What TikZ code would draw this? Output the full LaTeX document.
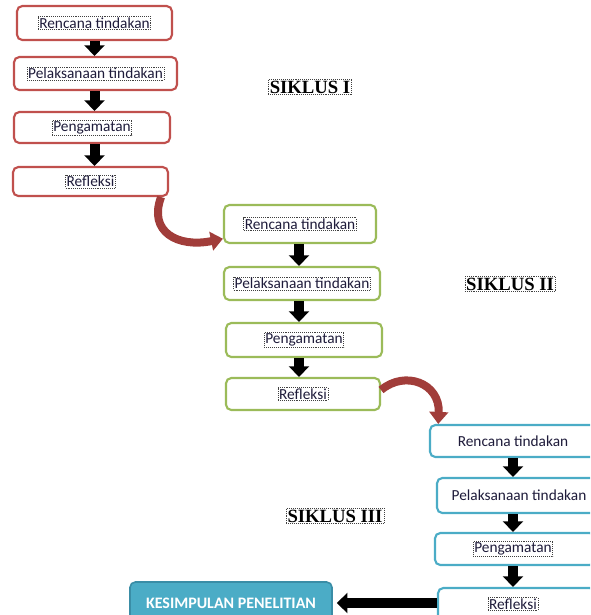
\documentclass[tikz,border=0pt]{standalone}
\usepackage{fontspec}
\setmainfont{Carlito}
\newfontfamily\sikfont{Liberation Serif}
\usetikzlibrary{arrows.meta}
\definecolor{redb}{HTML}{C0504D}
\definecolor{greenb}{HTML}{9BBB59}
\definecolor{blueb}{HTML}{4BACC6}
\definecolor{bluefill}{HTML}{4BACC6}
\definecolor{bluedark}{HTML}{3A8DA6}
\definecolor{curv}{HTML}{A13D3A}
\definecolor{txt}{HTML}{1E1B3A}
\tikzset{
  box/.style={draw, rounded corners=4pt, line width=1.6pt, fill=white, inner sep=0pt},
  sz/.style 2 args={minimum width=#1*0.75pt, minimum height=#2*0.75pt},
  lbl/.style={inner sep=0.8pt, text=txt, font=\fontsize{11.5}{13}\selectfont},
  dlbl/.style={lbl, draw=black!75, densely dotted, line width=0.45pt},
  sik/.style={draw=black!75, densely dotted, line width=0.45pt, inner sep=1pt, font=\sikfont\bfseries\fontsize{14}{16}\selectfont, text=black},
  blk/.style={line width=7.5pt, black, -{Triangle[width=15pt,length=8pt]}},
  crv/.style={line width=6pt, curv, -{Triangle[width=14pt,length=9pt]}},
}
\begin{document}
\begin{tikzpicture}[x=0.75pt,y=-0.75pt]
\useasboundingbox (0,0) rectangle (590,615);
\clip (0,0) rectangle (590,615);
% Cycle I
\node[box, draw=redb, sz={155}{34}] (r1) at (94.5,23) {};
\node[box, draw=redb, sz={163}{33}] (r2) at (95.5,73.5) {};
\node[box, draw=redb, sz={156}{31}] (r3) at (92,127.5) {};
\node[box, draw=redb, sz={155}{29}] (r4) at (90.5,181.5) {};
\node[dlbl] (r1t) at (r1) {Rencana tindakan};
\node[dlbl] (r2t) at (r2) {Pelaksanaan tindakan};
\node[dlbl] (r3t) at (r3) {Pengamatan};
\node[dlbl] (r4t) at (r4) {Refleksi};
\draw[blk] (r1.south) -- (r1.south |- r2.north);
\draw[blk] (r1.south |- r2.south) -- (r1.south |- r3.north);
\draw[blk] (r1.south |- r3.south) -- (r1.south |- r4.north);
\node[sik] (s1) at (310,87) {SIKLUS I};
% Cycle II
\node[box, draw=greenb, sz={152}{38}] (g1) at (300,224) {};
\node[box, draw=greenb, sz={156}{33}] (g2) at (302,283.5) {};
\node[box, draw=greenb, sz={156}{34}] (g3) at (304,340) {};
\node[box, draw=greenb, sz={154}{32}] (g4) at (303,394) {};
\node[dlbl] (g1t) at (g1) {Rencana tindakan};
\node[dlbl] (g2t) at (g2) {Pelaksanaan tindakan};
\node[dlbl] (g3t) at (g3) {Pengamatan};
\node[dlbl] (g4t) at (g4) {Refleksi};
\coordinate (gx) at (299,0);
\draw[blk] (gx |- g1.south) -- (gx |- g2.north);
\draw[blk] (gx |- g2.south) -- (gx |- g3.north);
\draw[blk] (gx |- g3.south) -- (gx |- g4.north);
\node[sik] (s2) at (510,284) {SIKLUS II};
% Cycle III
\node[box, draw=blueb, sz={166}{32}] (b1) at (513,441) {};
\node[box, draw=blueb, sz={161}{35}] (b2) at (517.5,495.5) {};
\node[box, draw=blueb, sz={160}{32}] (b3) at (515,549) {};
\node[box, draw=blueb, sz={157}{36}] (b4) at (516.5,606) {};
\node[lbl] (b1t) at (513,441) {Rencana tindakan};
\node[lbl] (b2t) at (519,495.5) {Pelaksanaan tindakan};
\node[dlbl] (b3t) at (513,549) {Pengamatan};
\node[dlbl] (b4t) at (513,604) {Refleksi};
\coordinate (bx) at (513,0);
\draw[blk] (bx |- b1.south) -- (bx |- b2.north);
\draw[blk] (bx |- b2.south) -- (bx |- b3.north);
\draw[blk] (bx |- b3.south) -- (bx |- b4.north);
\node[sik] (s3) at (335,516) {SIKLUS III};
% Conclusion
\node[draw=bluedark, fill=bluefill, rounded corners=4pt, line width=1.2pt, sz={202}{42}, inner sep=0pt,
      text=white, font=\bfseries\fontsize{12}{14}\selectfont] (k) at (231,603) {KESIMPULAN PENELITIAN};
\draw[blk] (k.east -| b4.west) -- ([xshift=3pt]k.east);
% Curved arrows
\draw[crv] ([xshift=-6pt]r4.south east) .. controls (148,232) and (178,248) .. ([yshift=4pt]g1.south west);
\draw[crv] ([yshift=3pt]g4.east) .. controls (405,370) and (440,383) .. ([xshift=7pt]b1.north west);
\end{tikzpicture}
\end{document}
